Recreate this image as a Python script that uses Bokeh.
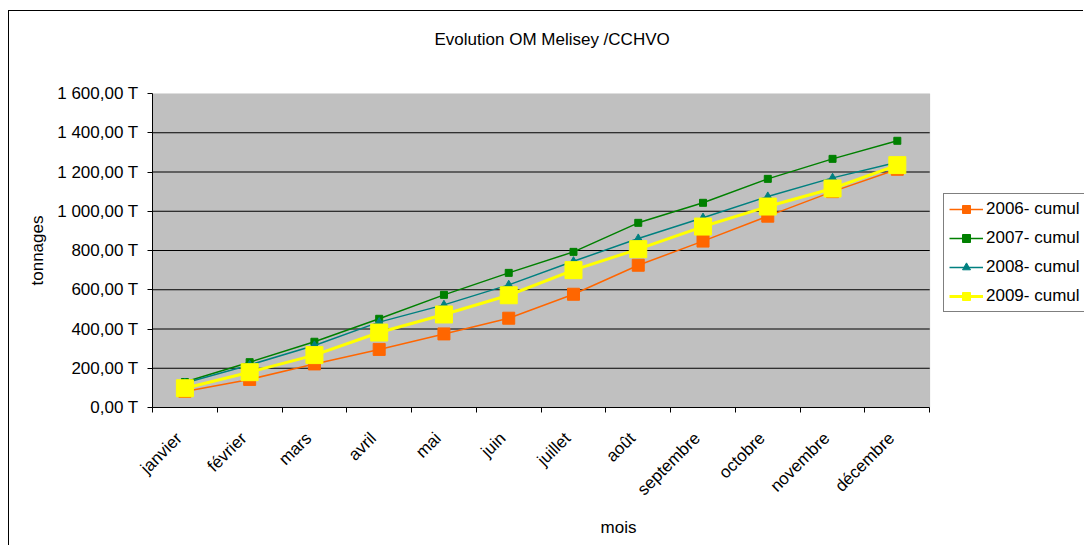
from math import pi
from bokeh.plotting import figure
from bokeh.models import (Range1d, LinearAxis, FixedTicker, Legend, LegendItem, Title,
                          BoxAnnotation)
from bokeh.embed import file_html
from bokeh.resources import INLINE

months = ["janvier", "février", "mars", "avril", "mai", "juin", "juillet", "août",
          "septembre", "octobre", "novembre", "décembre"]
c2006 = [82, 143, 222, 296, 375, 455, 577, 725, 848, 975, 1100, 1214]
c2007 = [130, 231, 335, 452, 574, 686, 793, 941, 1043, 1165, 1267, 1359]
c2008 = [125, 217, 316, 435, 523, 625, 745, 861, 967, 1075, 1170, 1250]
c2009 = [98, 180, 267, 382, 474, 572, 700, 807, 922, 1024, 1116, 1235]
series_names = ["2006- cumul", "2007- cumul", "2008- cumul", "2009- cumul"]
y_ticks = [0, 200, 400, 600, 800, 1000, 1200, 1400, 1600]
y_tick_labels = ["0,00 T", "200,00 T", "400,00 T", "600,00 T", "800,00 T",
                 "1 000,00 T", "1 200,00 T", "1 400,00 T", "1 600,00 T"]
title_text = "Evolution OM Melisey /CCHVO"

# layout / style constants
FONT = "Liberation Sans"
FS = "17px"
N = len(months)
X_END = 14.39          # the frame runs on under the legend, to the right edge
LABEL_SHIFT = 0.09     # month labels sit slightly left of the category centre

xs = [i + 0.5 for i in range(N)]                    # category centres
boundaries = list(range(N + 1))                     # category edges
label_ticks = [round(x - LABEL_SHIFT, 2) for x in xs]

p = figure(width=1075, height=535,
           x_range=Range1d(0, X_END), y_range=Range1d(y_ticks[0], y_ticks[-1]),
           output_backend="svg", toolbar_location=None,
           x_axis_location=None, y_axis_location=None,
           min_border_left=143, min_border_right=0,
           min_border_top=82, min_border_bottom=139)
p.title = None
p.styles = {"margin-left": "8px", "margin-top": "10px",
            "border-left": "1px solid black", "border-top": "1px solid black"}
p.background_fill_color = "white"
p.border_fill_color = "white"
p.outline_line_color = None

# grey plot area over the twelve months
area = BoxAnnotation(left=boundaries[0], right=boundaries[-1],
                     bottom=y_ticks[0], top=y_ticks[-1],
                     fill_color="#C0C0C0", fill_alpha=1,
                     line_color="#808080", line_width=1, level="image")
p.add_layout(area)

# horizontal grid lines
grid_y = y_ticks[1:-1]
p.segment(x0=[boundaries[0]] * len(grid_y), x1=[boundaries[-1]] * len(grid_y),
          y0=grid_y, y1=grid_y, line_color="black", line_width=1)

# spacer between frame and title, then the title further out
spacer = Title(text=" ", text_font_size="1px", standoff=42)
p.add_layout(spacer, "above")
title = Title(text=title_text, text_font=FONT, text_font_size=FS,
              text_font_style="normal", text_color="black",
              align="left", offset=282, standoff=0)
p.add_layout(title, "above")

# y axis
yax = LinearAxis(ticker=FixedTicker(ticks=y_ticks),
                 major_label_overrides={t: l for t, l in zip(y_ticks, y_tick_labels)})
yax.axis_label = "tonnages"
p.add_layout(yax, "left")

# x axis: ticks at category edges
xticks = LinearAxis(ticker=FixedTicker(ticks=boundaries),
                    major_label_overrides={b: " " for b in boundaries},
                    bounds=(boundaries[0], boundaries[-1]))
xticks.major_label_text_font_size = "1px"
xticks.major_label_standoff = 0
p.add_layout(xticks, "below")

# x axis: month names
xax = LinearAxis(ticker=FixedTicker(ticks=label_ticks),
                 major_label_overrides={t: m for t, m in zip(label_ticks, months)},
                 bounds=(boundaries[0], boundaries[-1]))
xax.major_label_orientation = pi / 4
xax.axis_label = "mois"
p.add_layout(xax, "below")

for ax in (yax, xticks, xax):
    ax.major_label_text_font = FONT
    ax.axis_label_text_font = FONT
    ax.axis_label_text_font_style = "normal"
    ax.axis_label_text_font_size = FS
    ax.axis_label_text_color = "black"
    ax.major_label_text_color = "black"
    ax.minor_tick_line_color = None
    ax.major_tick_in = 0
    ax.major_tick_out = 5
    ax.major_tick_line_color = "black" if ax is not xax else None
    ax.axis_line_color = "black" if ax is not xax else None
yax.major_label_text_font_size = FS
xax.major_label_text_font_size = FS
yax.major_label_standoff = 9
yax.axis_label_standoff = 7
xax.major_label_standoff = 14
xax.axis_label_standoff = 9

p.xgrid.grid_line_color = None
p.ygrid.grid_line_color = None

r06l = p.line(xs, c2006, line_color="#FF6600", line_width=1.5)
r06m = p.scatter(xs, c2006, marker="square", size=12, fill_color="#FF6600", line_color="#FF6600")
r07l = p.line(xs, c2007, line_color="#008000", line_width=1.5)
r07m = p.scatter(xs, c2007, marker="square", size=7, fill_color="#008000", line_color="#008000")
r08l = p.line(xs, c2008, line_color="#008080", line_width=1.5)
r08m = p.scatter(xs, c2008, marker="triangle", size=8, fill_color="#008080", line_color="#008080")
r09l = p.line(xs, c2009, line_color="#FFFF00", line_width=3)
r09m = p.scatter(xs, c2009, marker="square", size=17, fill_color="#FFFF00", line_color="#FFFF00")

legend = Legend(items=[
    LegendItem(label=series_names[0], renderers=[r06l, r06m]),
    LegendItem(label=series_names[1], renderers=[r07l, r07m]),
    LegendItem(label=series_names[2], renderers=[r08l, r08m]),
    LegendItem(label=series_names[3], renderers=[r09l, r09m]),
], location=(791, 95))
legend.label_text_font = FONT
legend.label_text_font_size = FS
legend.label_text_color = "black"
legend.glyph_width = 34
legend.glyph_height = 20
legend.label_height = 20
legend.label_standoff = 3
legend.spacing = 9
legend.padding = 5
legend.margin = 0
legend.border_line_color = "black"
legend.border_line_width = 1
legend.background_fill_color = "white"
legend.background_fill_alpha = 1
p.add_layout(legend, "center")

open("out.html", "w").write(file_html(p, INLINE))
